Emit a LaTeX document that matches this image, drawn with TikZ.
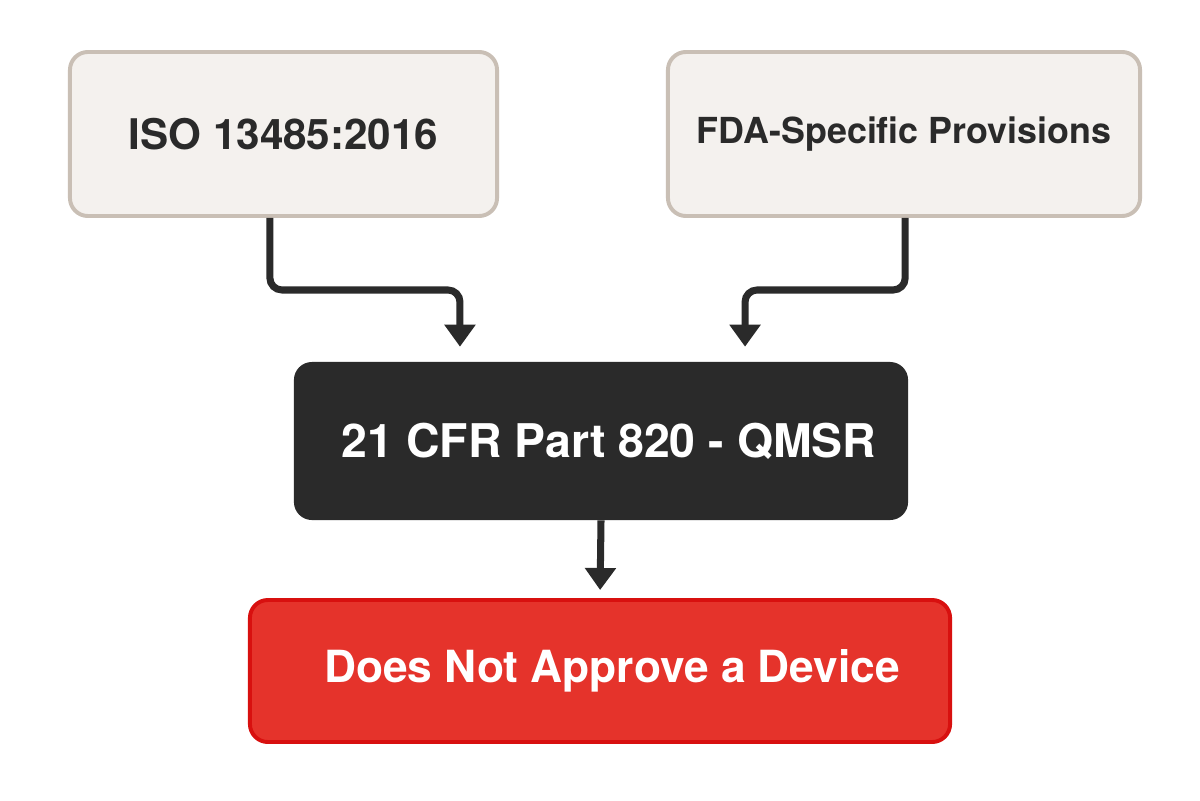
\documentclass[tikz,border=0pt]{standalone}
\usepackage{fontspec}
\setmainfont{TeX Gyre Heros}
\usetikzlibrary{arrows.meta}
\definecolor{paper}{HTML}{F4F1EE}
\definecolor{rim}{HTML}{C9BFB5}
\definecolor{ink}{HTML}{2A2A2A}
\definecolor{alarm}{HTML}{E5332B}
\definecolor{alarmrim}{HTML}{D8100F}

\begin{document}
\begin{tikzpicture}[x=.025cm,y=-.025cm,font=\bfseries,
 src/.style={draw=rim,fill=paper,line width=2.8pt,rounded corners=.45cm,text=ink,minimum height=4.1cm},
 core/.style={fill=ink,rounded corners=.45cm,text=white,minimum width=15.35cm,minimum height=3.95cm},
 verdict/.style={draw=alarmrim,fill=alarm,line width=2.8pt,rounded corners=.45cm,text=white,minimum width=17.5cm,minimum height=3.55cm},
 flow/.style={-{Triangle[width=.75cm,length=.55cm]},draw=ink,line width=5pt,rounded corners=.3cm}]
\path[use as bounding box,fill=white] (0,0) rectangle (1200,800);
\node[src,minimum width=10.675cm,font=\bfseries\fontsize{30}{32}\selectfont] (iso) at (283.5,134) {ISO 13485:2016};
\node[src,minimum width=11.8cm,font=\bfseries\fontsize{25.5}{28}\selectfont] (fda) at (904,134) {FDA-Specific Provisions};
\node[core,font=\bfseries\fontsize{33}{36}\selectfont] (qmsr) at (601,441) {\hspace{.4cm}21 CFR Part 820 - QMSR};
\node[verdict,font=\bfseries\fontsize{31.5}{34}\selectfont] (deny) at (600,671) {\hspace{.6cm}Does Not Approve a Device};
% converging inputs
\draw[flow,shorten >=.375cm] ([xshift=-.34cm]iso.south) -- ++(0,72) -| ([xshift=-3.525cm]qmsr.north);
\draw[flow,shorten >=.375cm] ([xshift=.03cm]fda.south) -- ++(0,72) -| ([xshift=3.6cm]qmsr.north);
\draw[flow,shorten >=.2cm] (qmsr.south) -- (deny.north);
\end{tikzpicture}
\end{document}
